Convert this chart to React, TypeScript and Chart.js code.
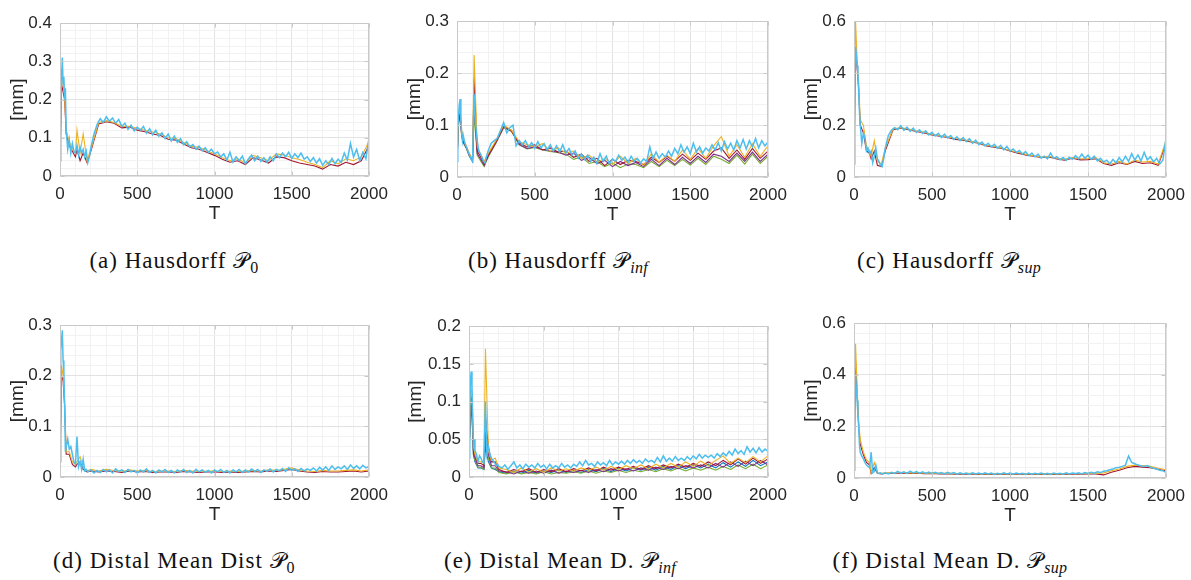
import React, { useEffect, useRef } from 'react';
import { Chart, registerables } from 'chart.js';
Chart.register(...registerables);

// ---------------- DATA ----------------
const T_MAIN = [0, 5, 10, 15, 20, 25, 30, 35, 40, 50, 60, 70, 80, 90, 100, 110, 120, 130, 140, 150, 160, 170, 180, 190, 200,
  220, 240, 260, 280, 300, 320, 340, 360, 380, 400,
  420, 440, 460, 480, 500, 520, 540, 560, 580, 600,
  620, 640, 660, 680, 700, 720, 740, 760, 780, 800,
  820, 840, 860, 880, 900, 920, 940, 960, 980, 1000,
  1020, 1040, 1060, 1080, 1100, 1120, 1140, 1160, 1180, 1200,
  1220, 1240, 1260, 1280, 1300, 1320, 1340, 1360, 1380, 1400,
  1420, 1440, 1460, 1480, 1500, 1520, 1540, 1560, 1580, 1600,
  1620, 1640, 1660, 1680, 1700, 1720, 1740, 1760, 1780, 1800,
  1820, 1840, 1860, 1880, 1900, 1920, 1940, 1960, 1980, 2000];

const T_SPARSE = [0, 10, 20, 30, 40, 60, 80, 100, 110, 130, 150, 175, 200,
  250, 300, 350, 400, 450, 500, 550, 600, 650,
  700, 750, 800, 850, 900, 950, 1000, 1050, 1100,
  1150, 1200, 1250, 1300, 1350, 1400, 1450, 1500, 1550,
  1600, 1650, 1700, 1750, 1800, 1850, 1900, 1950, 2000];

// (a) Hausdorff P0
const A_CYAN = [0.04, 0.28, 0.25, 0.31, 0.24, 0.26, 0.2, 0.23, 0.12, 0.07, 0.095, 0.06, 0.085, 0.065, 0.06, 0.08, 0.055, 0.075, 0.06, 0.07, 0.05, 0.065, 0.035, 0.05, 0.075,
  0.11, 0.135, 0.15, 0.14, 0.155, 0.143, 0.152, 0.138, 0.148, 0.13,
  0.138, 0.122, 0.133, 0.118, 0.128, 0.12, 0.13, 0.112, 0.124, 0.108,
  0.12, 0.104, 0.113, 0.098, 0.11, 0.092, 0.104, 0.088, 0.098, 0.082,
  0.09, 0.076, 0.082, 0.07, 0.078, 0.066, 0.074, 0.062, 0.07, 0.058,
  0.063, 0.05, 0.058, 0.042, 0.062, 0.036, 0.05, 0.04, 0.052, 0.032,
  0.045, 0.055, 0.04, 0.052, 0.038, 0.048, 0.036, 0.05, 0.04, 0.058,
  0.048, 0.06, 0.05, 0.062, 0.046, 0.058, 0.048, 0.06, 0.044, 0.05,
  0.038, 0.048, 0.034, 0.045, 0.028, 0.04, 0.03, 0.046, 0.032, 0.044,
  0.036, 0.06, 0.042, 0.085, 0.05, 0.07, 0.04, 0.062, 0.045, 0.1];
const A_ORANGE = [0.04, 0.26, 0.24, 0.21, 0.12, 0.09, 0.07, 0.06, 0.12, 0.06, 0.11, 0.04, 0.07,
  0.14, 0.145, 0.14, 0.13, 0.13, 0.125, 0.12, 0.115, 0.11,
  0.1, 0.098, 0.088, 0.078, 0.075, 0.066, 0.058, 0.048, 0.04,
  0.045, 0.034, 0.054, 0.048, 0.04, 0.058, 0.055, 0.048, 0.043,
  0.036, 0.03, 0.022, 0.04, 0.032, 0.045, 0.04, 0.05, 0.09];
const A_RED = [0.04, 0.24, 0.22, 0.2, 0.11, 0.08, 0.065, 0.05, 0.07, 0.04, 0.06, 0.035, 0.065,
  0.136, 0.142, 0.138, 0.126, 0.128, 0.12, 0.116, 0.11, 0.106,
  0.096, 0.094, 0.084, 0.074, 0.07, 0.062, 0.054, 0.044, 0.036,
  0.04, 0.03, 0.048, 0.042, 0.034, 0.05, 0.048, 0.04, 0.034,
  0.03, 0.026, 0.018, 0.03, 0.026, 0.036, 0.03, 0.04, 0.08];

// (b) Hausdorff Pinf
const B_CYAN = [0.03, 0.09, 0.12, 0.14, 0.15, 0.11, 0.085, 0.07, 0.08, 0.065, 0.058, 0.05, 0.042, 0.035, 0.03, 0.16, 0.1, 0.07, 0.05, 0.045, 0.038, 0.03, 0.027, 0.04, 0.05,
  0.065, 0.07, 0.075, 0.09, 0.105, 0.085, 0.095, 0.1, 0.06, 0.07,
  0.062, 0.07, 0.058, 0.066, 0.055, 0.068, 0.056, 0.064, 0.052, 0.062,
  0.05, 0.06, 0.048, 0.062, 0.046, 0.055, 0.042, 0.05, 0.036, 0.044,
  0.034, 0.042, 0.03, 0.038, 0.026, 0.045, 0.03, 0.04, 0.025, 0.035,
  0.03, 0.042, 0.032, 0.038, 0.028, 0.04, 0.03, 0.036, 0.027, 0.035,
  0.03, 0.058, 0.035, 0.048, 0.036, 0.045, 0.038, 0.05, 0.04, 0.055,
  0.045, 0.062, 0.048, 0.058, 0.045, 0.065, 0.048, 0.058, 0.046, 0.056,
  0.05, 0.062, 0.052, 0.066, 0.05, 0.068, 0.054, 0.065, 0.052, 0.07,
  0.056, 0.072, 0.054, 0.07, 0.058, 0.074, 0.056, 0.07, 0.06, 0.068];
const B_ORANGE = [0.03, 0.12, 0.13, 0.09, 0.075, 0.06, 0.045, 0.035, 0.235, 0.06, 0.045, 0.03, 0.045,
  0.07, 0.1, 0.09, 0.068, 0.062, 0.058, 0.064, 0.05, 0.056,
  0.046, 0.05, 0.036, 0.042, 0.028, 0.036, 0.024, 0.04, 0.026,
  0.036, 0.022, 0.045, 0.028, 0.042, 0.03, 0.052, 0.034, 0.055,
  0.036, 0.06, 0.078, 0.04, 0.062, 0.038, 0.064, 0.04, 0.06];
const B_RED = [0.03, 0.11, 0.125, 0.085, 0.07, 0.058, 0.042, 0.032, 0.19, 0.05, 0.04, 0.025, 0.042,
  0.068, 0.098, 0.088, 0.066, 0.058, 0.062, 0.052, 0.056, 0.048,
  0.05, 0.038, 0.044, 0.03, 0.036, 0.022, 0.034, 0.024, 0.032,
  0.03, 0.024, 0.038, 0.028, 0.04, 0.03, 0.044, 0.032, 0.046,
  0.034, 0.05, 0.056, 0.036, 0.052, 0.034, 0.055, 0.036, 0.05];
const B_PURPLE = [0.03, 0.105, 0.12, 0.08, 0.068, 0.056, 0.04, 0.03, 0.14, 0.045, 0.035, 0.022, 0.04,
  0.066, 0.096, 0.09, 0.063, 0.055, 0.058, 0.053, 0.05, 0.048,
  0.042, 0.046, 0.032, 0.038, 0.026, 0.032, 0.02, 0.03, 0.022,
  0.028, 0.02, 0.034, 0.022, 0.036, 0.024, 0.038, 0.026, 0.04,
  0.028, 0.044, 0.04, 0.03, 0.046, 0.03, 0.048, 0.03, 0.044];
const B_GREEN = [0.03, 0.1, 0.118, 0.078, 0.066, 0.055, 0.04, 0.03, 0.12, 0.042, 0.032, 0.02, 0.038,
  0.065, 0.095, 0.088, 0.062, 0.054, 0.057, 0.052, 0.049, 0.047,
  0.044, 0.034, 0.039, 0.026, 0.03, 0.02, 0.027, 0.018, 0.025,
  0.024, 0.018, 0.03, 0.02, 0.032, 0.022, 0.034, 0.023, 0.036,
  0.024, 0.04, 0.034, 0.026, 0.042, 0.025, 0.044, 0.026, 0.04];

// (c) Hausdorff Psup
const C_CYAN = [0.05, 0.42, 0.5, 0.47, 0.43, 0.4, 0.33, 0.25, 0.2, 0.13, 0.17, 0.15, 0.1, 0.11, 0.09, 0.1, 0.055, 0.08, 0.11, 0.07, 0.06, 0.045, 0.04, 0.07, 0.11,
  0.16, 0.18, 0.19, 0.182, 0.197, 0.18, 0.192, 0.176, 0.188, 0.172,
  0.182, 0.168, 0.178, 0.162, 0.172, 0.158, 0.168, 0.152, 0.165, 0.15,
  0.16, 0.145, 0.155, 0.14, 0.152, 0.136, 0.148, 0.13, 0.142, 0.125,
  0.135, 0.12, 0.13, 0.116, 0.126, 0.11, 0.122, 0.105, 0.118, 0.1,
  0.108, 0.095, 0.102, 0.088, 0.098, 0.082, 0.092, 0.078, 0.088, 0.072,
  0.08, 0.07, 0.092, 0.072, 0.078, 0.066, 0.075, 0.064, 0.076, 0.068,
  0.082, 0.07, 0.088, 0.072, 0.084, 0.068, 0.08, 0.062, 0.072, 0.058,
  0.065, 0.05, 0.068, 0.055, 0.075, 0.058, 0.08, 0.06, 0.09, 0.065,
  0.085, 0.062, 0.095, 0.066, 0.078, 0.058, 0.072, 0.05, 0.065, 0.15];
const C_ORANGE = [0.05, 0.6, 0.45, 0.36, 0.22, 0.2, 0.12, 0.1, 0.08, 0.14, 0.06, 0.05, 0.11,
  0.185, 0.19, 0.185, 0.178, 0.172, 0.165, 0.16, 0.155, 0.148,
  0.145, 0.138, 0.132, 0.122, 0.118, 0.112, 0.102, 0.095, 0.088,
  0.082, 0.078, 0.08, 0.072, 0.068, 0.075, 0.07, 0.07, 0.075,
  0.055, 0.05, 0.06, 0.05, 0.065, 0.058, 0.06, 0.05, 0.14];
const C_RED = [0.05, 0.5, 0.42, 0.34, 0.2, 0.17, 0.1, 0.09, 0.07, 0.1, 0.045, 0.04, 0.1,
  0.182, 0.188, 0.182, 0.175, 0.17, 0.162, 0.157, 0.152, 0.145,
  0.142, 0.135, 0.13, 0.12, 0.115, 0.11, 0.1, 0.092, 0.085,
  0.08, 0.075, 0.077, 0.069, 0.065, 0.072, 0.066, 0.067, 0.07,
  0.052, 0.045, 0.055, 0.048, 0.06, 0.052, 0.055, 0.045, 0.13];

// (d) Distal Mean Dist P0
const D_CYAN = [0.03, 0.25, 0.27, 0.29, 0.23, 0.21, 0.14, 0.05, 0.06, 0.075, 0.055, 0.06, 0.045, 0.03, 0.025, 0.08, 0.02, 0.03, 0.015, 0.035, 0.012, 0.015, 0.01, 0.012, 0.014,
  0.008, 0.013, 0.009, 0.015, 0.01, 0.014, 0.008, 0.016, 0.011, 0.014,
  0.009, 0.015, 0.01, 0.013, 0.008, 0.014, 0.01, 0.016, 0.009, 0.013,
  0.008, 0.014, 0.01, 0.015, 0.009, 0.013, 0.008, 0.014, 0.01, 0.015,
  0.009, 0.013, 0.008, 0.015, 0.01, 0.014, 0.009, 0.013, 0.008, 0.014,
  0.01, 0.015, 0.009, 0.013, 0.008, 0.014, 0.01, 0.015, 0.009, 0.014,
  0.01, 0.016, 0.011, 0.015, 0.009, 0.014, 0.011, 0.016, 0.01, 0.015,
  0.012, 0.017, 0.011, 0.018, 0.013, 0.016, 0.011, 0.017, 0.012, 0.016,
  0.013, 0.018, 0.012, 0.019, 0.014, 0.02, 0.013, 0.022, 0.015, 0.02,
  0.016, 0.022, 0.015, 0.024, 0.017, 0.022, 0.016, 0.023, 0.018, 0.021];
const D_ORANGE = [0.03, 0.22, 0.2, 0.15, 0.05, 0.05, 0.03, 0.025, 0.03, 0.04, 0.02, 0.012, 0.015,
  0.012, 0.015, 0.013, 0.011, 0.014, 0.012, 0.013, 0.011, 0.012,
  0.012, 0.011, 0.013, 0.012, 0.011, 0.012, 0.012, 0.011, 0.012,
  0.011, 0.012, 0.013, 0.012, 0.014, 0.013, 0.015, 0.018, 0.014,
  0.012, 0.011, 0.013, 0.012, 0.012, 0.013, 0.014, 0.012, 0.014];
const D_RED = [0.03, 0.2, 0.19, 0.14, 0.045, 0.045, 0.025, 0.02, 0.025, 0.03, 0.015, 0.01, 0.012,
  0.01, 0.012, 0.011, 0.009, 0.012, 0.01, 0.011, 0.009, 0.01,
  0.01, 0.009, 0.011, 0.01, 0.009, 0.01, 0.01, 0.009, 0.01,
  0.009, 0.01, 0.011, 0.01, 0.012, 0.011, 0.013, 0.015, 0.012,
  0.01, 0.009, 0.011, 0.01, 0.01, 0.011, 0.012, 0.01, 0.012];

// (e) Distal Mean D. Pinf
const E_CYAN = [0.025, 0.09, 0.13, 0.14, 0.12, 0.08, 0.04, 0.05, 0.035, 0.03, 0.02, 0.028, 0.025, 0.02, 0.018, 0.1, 0.03, 0.04, 0.03, 0.025, 0.022, 0.02, 0.015, 0.017, 0.014,
  0.012, 0.016, 0.01, 0.015, 0.02, 0.012, 0.016, 0.011, 0.017, 0.013,
  0.016, 0.012, 0.018, 0.013, 0.016, 0.011, 0.017, 0.012, 0.015, 0.012,
  0.018, 0.013, 0.016, 0.012, 0.017, 0.014, 0.02, 0.015, 0.022, 0.016,
  0.018, 0.014, 0.02, 0.016, 0.019, 0.015, 0.022, 0.016, 0.02, 0.017,
  0.021, 0.017, 0.022, 0.018, 0.023, 0.019, 0.022, 0.018, 0.024, 0.02,
  0.022, 0.019, 0.026, 0.02, 0.028, 0.021, 0.025, 0.021, 0.027, 0.022,
  0.025, 0.022, 0.027, 0.023, 0.028, 0.024, 0.03, 0.025, 0.029, 0.026,
  0.029, 0.025, 0.031, 0.027, 0.032, 0.028, 0.034, 0.029, 0.037, 0.031,
  0.035, 0.03, 0.04, 0.033, 0.038, 0.032, 0.039, 0.033, 0.037, 0.034];
const E_ORANGE = [0.025, 0.12, 0.11, 0.04, 0.03, 0.02, 0.02, 0.018, 0.17, 0.035, 0.022, 0.025, 0.012,
  0.01, 0.006, 0.012, 0.007, 0.011, 0.006, 0.012, 0.008, 0.011,
  0.008, 0.012, 0.009, 0.013, 0.009, 0.014, 0.01, 0.015, 0.011,
  0.016, 0.011, 0.017, 0.012, 0.018, 0.013, 0.02, 0.014, 0.021,
  0.015, 0.022, 0.028, 0.018, 0.025, 0.019, 0.027, 0.02, 0.028];
const E_RED = [0.025, 0.11, 0.1, 0.035, 0.028, 0.018, 0.018, 0.015, 0.08, 0.04, 0.02, 0.02, 0.01,
  0.006, 0.01, 0.007, 0.011, 0.006, 0.01, 0.007, 0.011, 0.007,
  0.011, 0.008, 0.012, 0.008, 0.013, 0.009, 0.013, 0.01, 0.014,
  0.01, 0.015, 0.011, 0.016, 0.012, 0.017, 0.013, 0.018, 0.014,
  0.02, 0.015, 0.022, 0.016, 0.024, 0.017, 0.025, 0.018, 0.024];
const E_PURPLE = [0.025, 0.1, 0.09, 0.03, 0.025, 0.015, 0.015, 0.012, 0.06, 0.03, 0.015, 0.015, 0.008,
  0.007, 0.004, 0.008, 0.005, 0.008, 0.005, 0.009, 0.005, 0.008,
  0.006, 0.009, 0.006, 0.01, 0.007, 0.011, 0.008, 0.011, 0.008,
  0.012, 0.009, 0.013, 0.01, 0.014, 0.011, 0.015, 0.012, 0.016,
  0.012, 0.018, 0.013, 0.02, 0.014, 0.021, 0.015, 0.022, 0.016];
const E_GREEN = [0.025, 0.095, 0.085, 0.028, 0.022, 0.013, 0.013, 0.01, 0.05, 0.025, 0.012, 0.012, 0.006,
  0.004, 0.007, 0.004, 0.006, 0.004, 0.007, 0.004, 0.006, 0.005,
  0.007, 0.005, 0.008, 0.005, 0.008, 0.006, 0.009, 0.006, 0.009,
  0.007, 0.01, 0.007, 0.011, 0.008, 0.012, 0.008, 0.012, 0.009,
  0.013, 0.009, 0.014, 0.01, 0.016, 0.011, 0.017, 0.011, 0.016];
const E_BLUE = [0.025, 0.09, 0.08, 0.03, 0.02, 0.012, 0.012, 0.01, 0.04, 0.02, 0.012, 0.01, 0.007,
  0.005, 0.008, 0.005, 0.009, 0.005, 0.008, 0.006, 0.009, 0.006,
  0.009, 0.006, 0.01, 0.007, 0.011, 0.007, 0.012, 0.008, 0.012,
  0.009, 0.013, 0.009, 0.014, 0.01, 0.015, 0.011, 0.016, 0.012,
  0.017, 0.012, 0.019, 0.013, 0.02, 0.014, 0.022, 0.015, 0.02];

// (f) Distal Mean D. Psup
const F_CYAN = [0.03, 0.32, 0.4, 0.34, 0.3, 0.25, 0.2, 0.13, 0.1, 0.085, 0.075, 0.06, 0.05, 0.045, 0.04, 0.1, 0.02, 0.025, 0.05, 0.02, 0.018, 0.02, 0.015, 0.018, 0.02,
  0.016, 0.022, 0.018, 0.026, 0.019, 0.024, 0.018, 0.027, 0.02, 0.025,
  0.019, 0.024, 0.018, 0.023, 0.017, 0.022, 0.018, 0.021, 0.016, 0.022,
  0.017, 0.021, 0.015, 0.02, 0.016, 0.019, 0.014, 0.02, 0.016, 0.019,
  0.015, 0.02, 0.016, 0.019, 0.014, 0.018, 0.015, 0.02, 0.016, 0.019,
  0.015, 0.019, 0.016, 0.018, 0.014, 0.019, 0.015, 0.018, 0.016, 0.019,
  0.015, 0.018, 0.014, 0.019, 0.016, 0.018, 0.015, 0.02, 0.016, 0.019,
  0.017, 0.02, 0.016, 0.021, 0.018, 0.022, 0.019, 0.024, 0.021, 0.026,
  0.028, 0.032, 0.035, 0.04, 0.042, 0.045, 0.05, 0.085, 0.06, 0.055,
  0.05, 0.047, 0.045, 0.048, 0.042, 0.038, 0.035, 0.03, 0.028, 0.022];
const F_ORANGE = [0.03, 0.52, 0.35, 0.22, 0.15, 0.1, 0.07, 0.06, 0.02, 0.06, 0.02, 0.018, 0.02,
  0.02, 0.022, 0.02, 0.021, 0.019, 0.02, 0.018, 0.019, 0.017,
  0.017, 0.018, 0.016, 0.017, 0.016, 0.017, 0.016, 0.016, 0.017,
  0.016, 0.017, 0.016, 0.017, 0.016, 0.017, 0.017, 0.018, 0.018,
  0.02, 0.028, 0.035, 0.045, 0.05, 0.048, 0.045, 0.038, 0.032];
const F_RED = [0.03, 0.45, 0.33, 0.2, 0.13, 0.09, 0.06, 0.05, 0.018, 0.04, 0.018, 0.016, 0.018,
  0.018, 0.02, 0.018, 0.019, 0.017, 0.018, 0.016, 0.017, 0.015,
  0.015, 0.016, 0.014, 0.015, 0.014, 0.015, 0.014, 0.014, 0.015,
  0.014, 0.015, 0.014, 0.015, 0.014, 0.015, 0.015, 0.016, 0.016,
  0.012, 0.022, 0.03, 0.04, 0.045, 0.042, 0.04, 0.034, 0.028];

const CAPTIONS = ['(a) Hausdorff ', '(b) Hausdorff ', '(c) Hausdorff ', '(d) Distal Mean Dist ', '(e) Distal Mean D. ', '(f) Distal Mean D. '];
const CAPTION_SUBS = ['0', 'inf', 'sup', '0', 'inf', 'sup'];
const Y_MAX = [0.4, 0.3, 0.6, 0.3, 0.2, 0.6];
const Y_MAJOR = [0.1, 0.1, 0.2, 0.1, 0.05, 0.2];
const X_MAX = 2000;
const X_MAJOR = 500;

// ---------------- STYLE / LAYOUT ----------------
const COL = {
  cyan: '#4DBEEE', orange: '#EDB120', red: '#A2142F', purple: '#7E2F8E', green: '#77AC30', blue: '#0072BD',
};
const TEXT = '#262626';
const BOX = '#c9c9c9';
const SANS = '"Liberation Sans", Arial, sans-serif';

type Panel = {
  L: number; T: number; R: number; B: number; axisW: number;
  ymax: number; ymajor: number;
  series: { xs: number[]; ys: number[]; color: string }[];
  capX: number; capY: number; cap: string; sub: string;
};

const PAD_TOP = 12;
const PAD_RIGHT = 28;
const AXIS_H = 53;

const PANELS: Panel[] = [
  { L: 60, T: 17, R: 369, B: 176, axisW: 58, ymax: Y_MAX[0], ymajor: Y_MAJOR[0], capX: 174, capY: 262, cap: CAPTIONS[0], sub: CAPTION_SUBS[0],
    series: [{ xs: T_MAIN, ys: A_CYAN, color: COL.cyan }, { xs: T_SPARSE, ys: A_ORANGE, color: COL.orange }, { xs: T_SPARSE, ys: A_RED, color: COL.red }] },
  { L: 457, T: 15, R: 768, B: 177, axisW: 58, ymax: Y_MAX[1], ymajor: Y_MAJOR[1], capX: 558, capY: 262, cap: CAPTIONS[1], sub: CAPTION_SUBS[1],
    series: [{ xs: T_MAIN, ys: B_CYAN, color: COL.cyan }, { xs: T_SPARSE, ys: B_ORANGE, color: COL.orange }, { xs: T_SPARSE, ys: B_RED, color: COL.red }, { xs: T_SPARSE, ys: B_PURPLE, color: COL.purple }, { xs: T_SPARSE, ys: B_GREEN, color: COL.green }] },
  { L: 854, T: 15, R: 1166, B: 177, axisW: 58, ymax: Y_MAX[2], ymajor: Y_MAJOR[2], capX: 949, capY: 262, cap: CAPTIONS[2], sub: CAPTION_SUBS[2],
    series: [{ xs: T_MAIN, ys: C_CYAN, color: COL.cyan }, { xs: T_SPARSE, ys: C_ORANGE, color: COL.orange }, { xs: T_SPARSE, ys: C_RED, color: COL.red }] },
  { L: 60, T: 319, R: 369, B: 477, axisW: 58, ymax: Y_MAX[3], ymajor: Y_MAJOR[3], capX: 174, capY: 562, cap: CAPTIONS[3], sub: CAPTION_SUBS[3],
    series: [{ xs: T_MAIN, ys: D_CYAN, color: COL.cyan }, { xs: T_SPARSE, ys: D_ORANGE, color: COL.orange }, { xs: T_SPARSE, ys: D_RED, color: COL.red }] },
  { L: 469, T: 320, R: 768, B: 477, axisW: 69, ymax: Y_MAX[4], ymajor: Y_MAJOR[4], capX: 560, capY: 562, cap: CAPTIONS[4], sub: CAPTION_SUBS[4],
    series: [{ xs: T_MAIN, ys: E_CYAN, color: COL.cyan }, { xs: T_SPARSE, ys: E_ORANGE, color: COL.orange }, { xs: T_SPARSE, ys: E_RED, color: COL.red }, { xs: T_SPARSE, ys: E_PURPLE, color: COL.purple }, { xs: T_SPARSE, ys: E_GREEN, color: COL.green }, { xs: T_SPARSE, ys: E_BLUE, color: COL.blue }] },
  { L: 854, T: 317, R: 1166, B: 478, axisW: 58, ymax: Y_MAX[5], ymajor: Y_MAJOR[5], capX: 950, capY: 562, cap: CAPTIONS[5], sub: CAPTION_SUBS[5],
    series: [{ xs: T_MAIN, ys: F_CYAN, color: COL.cyan }, { xs: T_SPARSE, ys: F_ORANGE, color: COL.orange }, { xs: T_SPARSE, ys: F_RED, color: COL.red }] },
];

const isMajor = (v: number, major: number) => Math.abs(v / major - Math.round(v / major)) < 1e-6;

const boxPlugin = {
  id: 'matlabBox',
  afterDatasetsDraw(chart: any, _args: any, opts: any) {
    const { ctx, chartArea } = chart;
    const { left, top, right, bottom } = chartArea;
    const xs = chart.scales.x;
    const ys = chart.scales.y;
    ctx.save();
    ctx.strokeStyle = BOX;
    ctx.lineWidth = 1;
    const l = Math.round(left) + 0.5, t = Math.round(top) + 0.5, r = Math.round(right) - 0.5, b = Math.round(bottom) - 0.5;
    ctx.beginPath();
    ctx.rect(l, t, r - l, b - t);
    for (let v = 0; v <= X_MAX + 1e-9; v += X_MAJOR) {
      const px = Math.round(xs.getPixelForValue(v)) + 0.5;
      ctx.moveTo(px, b); ctx.lineTo(px, b - 4);
      ctx.moveTo(px, t); ctx.lineTo(px, t + 4);
    }
    const major = opts.major as number;
    const n = Math.round(opts.max / major);
    for (let i = 0; i <= n; i++) {
      const py = Math.round(ys.getPixelForValue(i * major)) + 0.5;
      ctx.moveTo(l, py); ctx.lineTo(l + 4, py);
      ctx.moveTo(r, py); ctx.lineTo(r - 4, py);
    }
    ctx.stroke();
    ctx.restore();
  },
};

function PanelChart({ p }: { p: Panel }) {
  const ref = useRef<HTMLCanvasElement>(null);
  const cw = p.axisW + (p.R - p.L) + PAD_RIGHT;
  const ch = PAD_TOP + (p.B - p.T) + AXIS_H;
  useEffect(() => {
    const minor = p.ymajor / 5;
    const chart = new Chart(ref.current as HTMLCanvasElement, {
      type: 'line',
      data: {
        datasets: p.series.map((s, k) => ({
          data: s.xs.map((x, i) => ({ x, y: s.ys[i] })),
          borderColor: s.color,
          backgroundColor: s.color,
          borderWidth: k === 0 ? 1.5 : 1.1,
          pointRadius: 0,
          tension: 0,
          fill: false,
        })),
      },
      options: {
        animation: false,
        responsive: false,
        maintainAspectRatio: false,
        events: [],
        layout: { padding: { top: PAD_TOP, right: PAD_RIGHT, left: 0, bottom: 0 } },
        plugins: {
          legend: { display: false },
          tooltip: { enabled: false },
          matlabBox: { major: p.ymajor, max: p.ymax },
        } as any,
        scales: {
          x: {
            type: 'linear',
            min: 0,
            max: X_MAX,
            afterFit: (s: any) => { s.height = AXIS_H; },
            border: { display: false },
            grid: {
              drawTicks: false,
              color: (c: any) => (isMajor(c.tick.value, X_MAJOR) ? '#e2e2e2' : '#f2f2f2'),
              lineWidth: 1,
            },
            ticks: {
              stepSize: 100,
              autoSkip: false,
              maxRotation: 0,
              padding: 8,
              color: TEXT,
              font: { family: SANS, size: 17 },
              callback: (v: any) => (isMajor(Number(v), X_MAJOR) ? String(Math.round(Number(v))) : ''),
            },
            title: { display: true, text: 'T', color: TEXT, font: { family: SANS, size: 19 }, padding: { top: 4, bottom: 4 } },
          },
          y: {
            type: 'linear',
            min: 0,
            max: p.ymax,
            afterFit: (s: any) => { s.width = p.axisW; },
            border: { display: false },
            grid: {
              drawTicks: false,
              color: (c: any) => (isMajor(c.tick.value, p.ymajor) ? '#e2e2e2' : '#f2f2f2'),
              lineWidth: 1,
            },
            ticks: {
              stepSize: minor,
              autoSkip: false,
              padding: 8,
              color: TEXT,
              font: { family: SANS, size: 17 },
              callback: (v: any) => (isMajor(Number(v), p.ymajor) ? String(Number(Number(v).toFixed(3))) : ''),
            },
            title: { display: true, text: '[mm]', color: TEXT, font: { family: SANS, size: 19 }, padding: { top: 4, bottom: 4 } },
          },
        },
      },
      plugins: [boxPlugin as any],
    });
    return () => chart.destroy();
  }, []);
  return (
    <canvas
      ref={ref}
      width={cw}
      height={ch}
      style={{ position: 'absolute', left: p.L - p.axisW, top: p.T - PAD_TOP, width: cw, height: ch }}
    />
  );
}

function Caption({ p }: { p: Panel }) {
  const italicSub = p.sub !== '0';
  return (
    <div
      style={{
        position: 'absolute',
        left: p.capX,
        top: p.capY,
        transform: 'translate(-50%, -50%)',
        fontFamily: '"Liberation Serif", "Times New Roman", serif',
        fontSize: 23,
        letterSpacing: '1px',
        whiteSpace: 'nowrap',
        color: '#111',
        lineHeight: '28px',
      }}
    >
      {p.cap}
      <span style={{ fontSize: 22 }}>𝒫</span>
      <span style={{ fontFamily: '"Liberation Serif", serif', fontSize: 16, fontStyle: italicSub ? 'italic' : 'normal', position: 'relative', top: 5, letterSpacing: '0.3px' }}>{p.sub}</span>
    </div>
  );
}

export default function App() {
  return (
    <div style={{ position: 'absolute', left: 0, top: 0, width: 1191, height: 580, background: '#fff', overflow: 'hidden' }}>
      {PANELS.map((p, i) => (
        <PanelChart key={'c' + i} p={p} />
      ))}
      {PANELS.map((p, i) => (
        <Caption key={'t' + i} p={p} />
      ))}
    </div>
  );
}
